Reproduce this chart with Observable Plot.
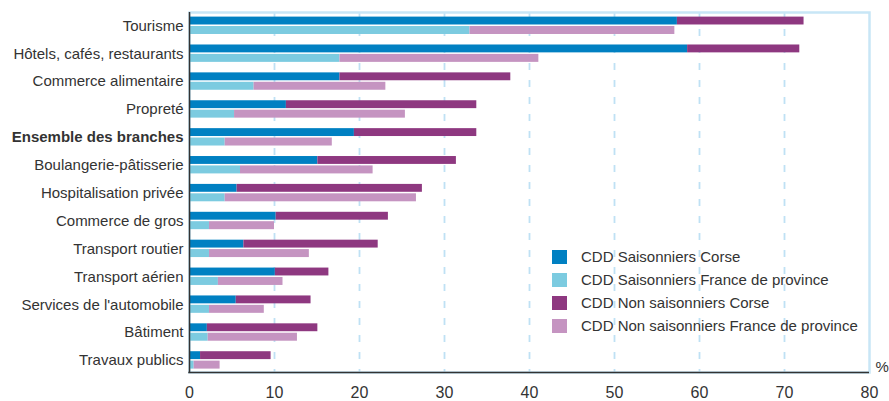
<!DOCTYPE html>
<html><head><meta charset="utf-8">
<script src="https://cdn.jsdelivr.net/npm/d3@7"></script>
<script src="https://cdn.jsdelivr.net/npm/@observablehq/plot@0.6"></script>
<style>
body{margin:0;background:#fff;font-family:"Liberation Sans",Arial,sans-serif;}
#wrap{position:relative;width:889px;height:401px;overflow:hidden;}
#legend{position:absolute;left:552px;top:245px;font-size:15px;color:#333;}
.li{display:flex;align-items:center;height:23px;white-space:nowrap;}
.sw{width:15px;height:14px;margin-right:14px;flex:none;}
</style></head><body><div id="wrap"><div id="legend"></div></div>
<script>
const categories = ["Tourisme","Hôtels, cafés, restaurants","Commerce alimentaire","Propreté","Ensemble des branches","Boulangerie-pâtisserie","Hospitalisation privée","Commerce de gros","Transport routier","Transport aérien","Services de l'automobile","Bâtiment","Travaux publics"];
const boldCategory = "Ensemble des branches";
const seriesNames = ["CDD Saisonniers Corse","CDD Saisonniers France de province","CDD Non saisonniers Corse","CDD Non saisonniers France de province"];
const seriesColors = ["#0080c2","#7ccbe0","#8e3880","#c594c1"];
const corseSaisonniers    = [57.4, 58.6, 17.7, 11.4, 19.4, 15.1, 5.6, 10.2, 6.4, 10.1, 5.5, 2.1, 1.3];
const corseNonSaisonniers = [14.9, 13.2, 20.1, 22.4, 14.4, 16.3, 21.8, 13.2, 15.8, 6.3, 8.8, 13.0, 8.3];
const franceSaisonniers    = [33.0, 17.7, 7.6, 5.3, 4.2, 6.0, 4.2, 2.35, 2.35, 3.4, 2.35, 2.2, 0.55];
const franceNonSaisonniers = [24.1, 23.4, 15.5, 20.1, 12.6, 15.6, 22.5, 7.65, 11.75, 7.6, 6.45, 10.5, 3.05];
const xTicks = [0,10,20,30,40,50,60,70,80];
const xGrid = [10,20,30,40,50,60,70];

const corseRows = [];
const franceRows = [];
categories.forEach((c,i)=>{
  corseRows.push({cat:c, series:seriesNames[0], value:corseSaisonniers[i]});
  corseRows.push({cat:c, series:seriesNames[2], value:corseNonSaisonniers[i]});
  franceRows.push({cat:c, series:seriesNames[1], value:franceSaisonniers[i]});
  franceRows.push({cat:c, series:seriesNames[3], value:franceNonSaisonniers[i]});
});

const W = 889, H = 401, mL = 189, mR = 20, mT = 12, mB = 29;
const chart = Plot.plot({
  width: W, height: H,
  marginLeft: mL, marginRight: mR, marginTop: mT, marginBottom: mB,
  style: {fontFamily: '"Liberation Sans", Arial, sans-serif', fontSize: "15px", color: "#333", background: "#fff", overflow: "visible"},
  x: {domain: [0, 80], label: null},
  y: {domain: categories, range: [11.4, 373.9], padding: 0, round: false, label: null},
  color: {domain: seriesNames, range: seriesColors},
  marks: [
    Plot.gridX(xGrid, {stroke: "#bfe1f4", strokeOpacity: 1, strokeWidth: 1.8, strokeDasharray: "7,10"}),
    Plot.frame({stroke: "#c8e6f6", strokeWidth: 2.5}),
    Plot.barX(corseRows, {y: "cat", x: "value", fill: "series", insetTop: 5.2, insetBottom: 14.8}),
    Plot.barX(franceRows, {y: "cat", x: "value", fill: "series", insetTop: 14.6, insetBottom: 5.3}),
    Plot.ruleX([0], {stroke: "#333", strokeWidth: 1.5}),
    Plot.axisX(xTicks, {tickSize: 0, tickPadding: 14, label: null, fontSize: 16}),
    Plot.axisY({tickSize: 0, tickPadding: 6, label: null, tickFormat: d => d === boldCategory ? "" : d}),
    Plot.axisY([boldCategory], {tickSize: 0, tickPadding: 6, label: null, fontWeight: "bold"}),
    Plot.text(["%"], {frameAnchor: "bottom-right", dx: 6, dy: -1, textAnchor: "start", lineAnchor: "bottom", fontSize: 15})
  ]
});

// bottom axis baseline
const xs = chart.scale("x");
d3.select(chart).append("line")
  .attr("x1", xs.apply(0) - 0.75).attr("x2", xs.apply(80))
  .attr("y1", H - mB + 0.5).attr("y2", H - mB + 0.5)
  .attr("stroke", "#333").attr("stroke-width", 1.5);

document.getElementById("wrap").prepend(chart);

const legend = d3.select("#legend");
seriesNames.forEach((s,i)=>{
  const row = legend.append("div").attr("class","li");
  row.append("div").attr("class","sw").style("background", seriesColors[i]);
  row.append("span").text(s);
});
</script>
</body></html>
